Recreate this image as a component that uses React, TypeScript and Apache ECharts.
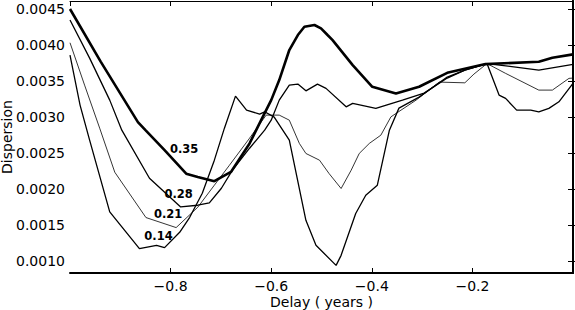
import React, { useEffect, useRef } from "react";
import * as echarts from "echarts";

// Delay (years) and dispersion for each curve
const x035 = [-1.0, -0.939, -0.865, -0.85, -0.812, -0.769, -0.746, -0.713, -0.68, -0.643, -0.62, -0.6, -0.584, -0.564, -0.547, -0.534, -0.514, -0.501, -0.488, -0.478, -0.438, -0.399, -0.352, -0.306, -0.25, -0.174, -0.068, -0.041, 0.0];
const y035 = [0.0045, 0.003771, 0.002931, 0.002819, 0.002542, 0.002215, 0.002171, 0.002111, 0.00224, 0.002635, 0.002958, 0.003236, 0.003514, 0.003931, 0.004139, 0.004254, 0.004278, 0.004232, 0.004139, 0.004069, 0.003722, 0.003421, 0.003329, 0.003421, 0.003615, 0.003736, 0.003768, 0.003824, 0.003871];

const x028 = [-1.0, -0.961, -0.921, -0.897, -0.842, -0.78, -0.746, -0.723, -0.699, -0.677, -0.643, -0.613, -0.6, -0.584, -0.564, -0.547, -0.531, -0.508, -0.491, -0.451, -0.438, -0.392, -0.339, -0.296, -0.25, -0.215, -0.171, -0.068, 0.0];
const y028 = [0.004347, 0.003819, 0.003236, 0.002819, 0.002153, 0.001754, 0.001778, 0.00181, 0.002014, 0.002264, 0.002569, 0.002819, 0.002958, 0.003236, 0.003444, 0.003458, 0.003365, 0.003458, 0.003399, 0.003143, 0.00319, 0.003121, 0.003236, 0.003333, 0.003542, 0.003653, 0.003743, 0.003653, 0.003732];

const x021 = [-1.0, -0.971, -0.941, -0.911, -0.849, -0.789, -0.746, -0.713, -0.683, -0.643, -0.61, -0.584, -0.564, -0.544, -0.531, -0.504, -0.485, -0.461, -0.441, -0.425, -0.405, -0.382, -0.362, -0.312, -0.266, -0.215, -0.197, -0.171, -0.134, -0.068, -0.041, -0.008, 0.0];
const y021 = [0.004032, 0.003444, 0.002847, 0.002236, 0.001607, 0.001468, 0.00175, 0.002056, 0.002333, 0.002708, 0.003028, 0.003028, 0.002958, 0.002635, 0.002496, 0.002403, 0.002218, 0.00201, 0.002264, 0.002496, 0.002635, 0.00275, 0.003004, 0.003236, 0.003486, 0.003476, 0.003597, 0.003743, 0.003607, 0.003375, 0.003375, 0.003538, 0.003542];

const x014 = [-1.0, -0.98, -0.961, -0.921, -0.862, -0.828, -0.812, -0.782, -0.762, -0.737, -0.713, -0.693, -0.671, -0.649, -0.623, -0.613, -0.594, -0.564, -0.531, -0.511, -0.471, -0.461, -0.432, -0.412, -0.389, -0.365, -0.346, -0.306, -0.25, -0.215, -0.171, -0.147, -0.134, -0.112, -0.084, -0.068, -0.048, -0.028, 0.0];
const y014 = [0.003861, 0.003167, 0.002681, 0.001685, 0.001176, 0.001222, 0.00119, 0.001403, 0.001611, 0.001944, 0.002403, 0.002847, 0.003292, 0.003097, 0.003042, 0.003074, 0.003, 0.002681, 0.001569, 0.001222, 0.000944, 0.001083, 0.001663, 0.001917, 0.002056, 0.002819, 0.003125, 0.003278, 0.003556, 0.003653, 0.003743, 0.003306, 0.00326, 0.003097, 0.003097, 0.003074, 0.003121, 0.003213, 0.003468];

const curveNames = ["0.35", "0.28", "0.21", "0.14"];
// label anchor (delay, dispersion) for each curve's text
const labelAnchorX = [-0.773, -0.784, -0.805, -0.824];
const labelAnchorY = [0.002556, 0.001931, 0.001653, 0.001347];

const X_MIN = -1.0;
const X_MAX = 0.0;
const X_STEP = 0.2;
const Y_MIN = 0.000838;
const Y_MAX = 0.004611;

const FONT = "DejaVu Sans";

function pairs(xs: number[], ys: number[]) {
  return xs.map((x, i) => [x, ys[i]]);
}

export default function App() {
  const ref = useRef<HTMLDivElement>(null);
  useEffect(() => {
    if (!ref.current) return;
    const chart = echarts.init(ref.current, null, { renderer: "svg" });
    const xsAll = [x035, x028, x021, x014];
    const ysAll = [y035, y028, y021, y014];
    const widths = [2.6, 1.3, 0.8, 1.3];
    const series = curveNames.map((name, i) => ({
      name,
      type: "line",
      data: pairs(xsAll[i], ysAll[i]),
      showSymbol: false,
      symbol: "none",
      lineStyle: { color: "#000", width: widths[i] },
      markPoint: {
        symbol: "circle",
        symbolSize: 0,
        silent: true,
        data: [
          {
            coord: [labelAnchorX[i], labelAnchorY[i]],
            label: {
              show: true,
              position: "inside",
              formatter: name,
              color: "#000",
              fontFamily: FONT,
              fontSize: 11.5,
              fontWeight: 600,
            },
          },
        ],
      },
    }));
    const axisLine = (w: number) => ({ show: true, lineStyle: { color: "#000", width: w } });
    chart.setOption({
      animation: false,
      backgroundColor: "#fff",
      grid: { left: 70, right: 2, top: 1, bottom: 37, containLabel: false, outerBoundsMode: "none" },
      xAxis: [
        {
          type: "value",
          min: X_MIN,
          max: X_MAX,
          interval: X_STEP,
          position: "bottom",
          name: "Delay ( years )",
          nameLocation: "middle",
          nameGap: 22,
          nameMoveOverlap: false,
          nameTextStyle: { color: "#000", fontFamily: FONT, fontSize: 14 },
          axisLine: axisLine(2),
          axisTick: { show: true, inside: true, length: 5, lineStyle: { color: "#000", width: 1 } },
          axisLabel: {
            color: "#000",
            fontFamily: FONT,
            fontSize: 14,
            margin: 6,
            showMinLabel: false,
            showMaxLabel: false,
            formatter: (v: number) => (v < 0 ? "\u2212" : "") + Math.abs(v).toFixed(1),
          },
          splitLine: { show: false },
        },
        {
          type: "value",
          min: X_MIN,
          max: X_MAX,
          interval: X_STEP,
          position: "top",
          axisLine: axisLine(1),
          axisTick: { show: true, inside: true, length: 5, lineStyle: { color: "#000", width: 1 } },
          axisLabel: { show: false },
          splitLine: { show: false },
        },
      ],
      yAxis: [
        {
          type: "value",
          min: Y_MIN,
          max: Y_MAX,
          splitNumber: 7,
          position: "left",
          name: "Dispersion",
          nameLocation: "middle",
          nameGap: 56,
          nameMoveOverlap: false,
          nameTextStyle: { color: "#000", fontFamily: FONT, fontSize: 14 },
          axisLine: axisLine(2),
          axisTick: { show: true, inside: true, length: 5, lineStyle: { color: "#000", width: 1 } },
          axisLabel: {
            color: "#000",
            fontFamily: FONT,
            fontSize: 14,
            margin: 5,
            showMinLabel: false,
            showMaxLabel: false,
            formatter: (v: number) => v.toFixed(4),
          },
          splitLine: { show: false },
        },
        {
          type: "value",
          min: Y_MIN,
          max: Y_MAX,
          splitNumber: 7,
          position: "right",
          axisLine: axisLine(2),
          axisTick: { show: true, inside: true, length: 5, lineStyle: { color: "#000", width: 1 } },
          axisLabel: { show: false },
          splitLine: { show: false },
        },
      ],
      series,
    });
    return () => chart.dispose();
  }, []);
  return (
    <div
      ref={ref}
      style={{ position: "absolute", left: 0, top: 0, width: 575, height: 310 }}
    />
  );
}
